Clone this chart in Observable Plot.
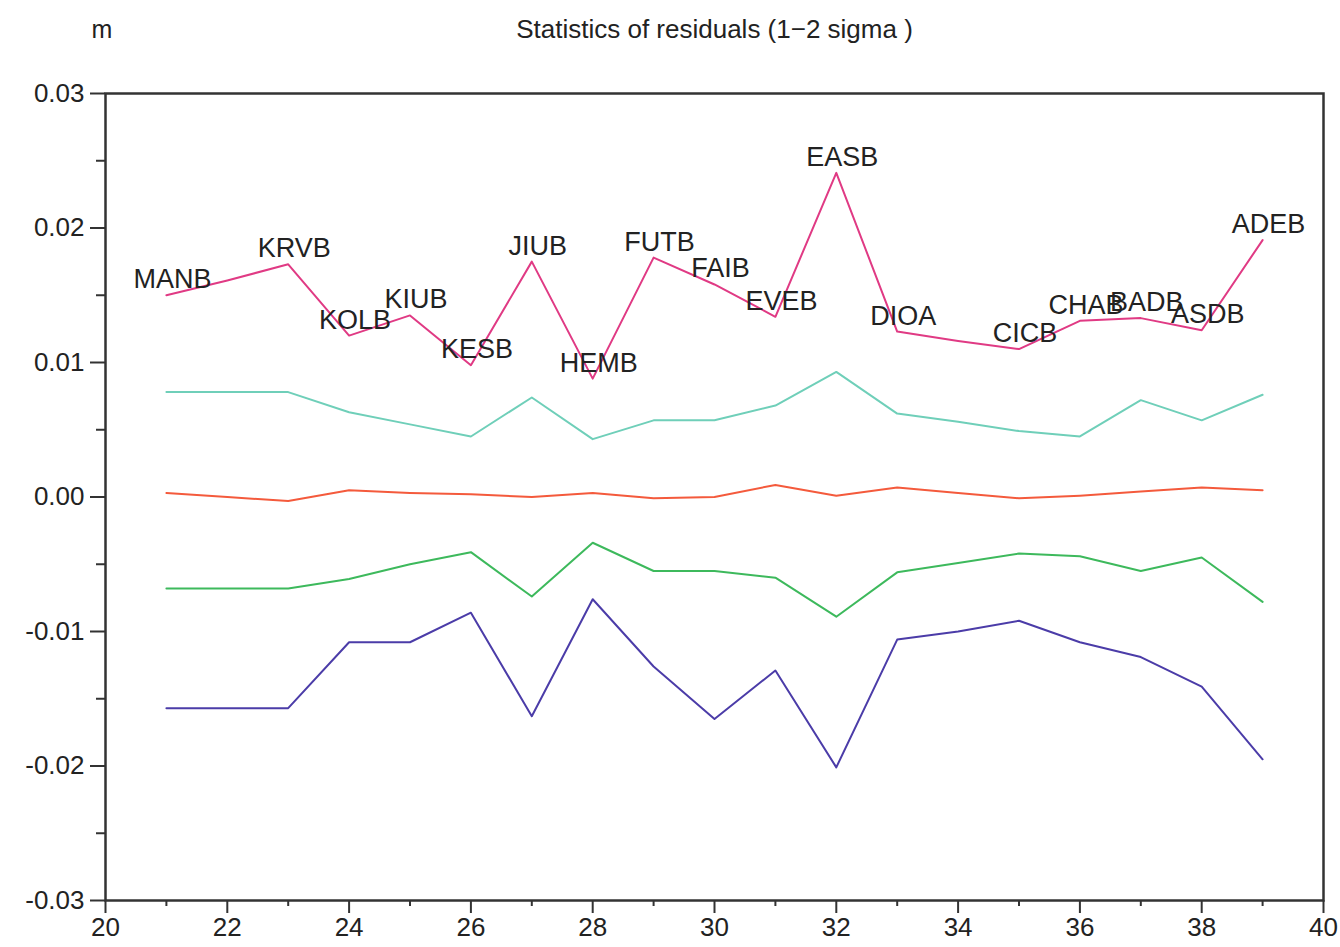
<!DOCTYPE html>
<html>
<head>
<meta charset="utf-8">
<script src="https://cdn.jsdelivr.net/npm/d3@7"></script>
<script src="https://cdn.jsdelivr.net/npm/@observablehq/plot@0.6"></script>
<style>
  html, body { margin: 0; padding: 0; background: #fff; }
</style>
</head>
<body>
<div id="chart"></div>
<script>
// ---- data ----
const xs = [21, 22, 23, 24, 25, 26, 27, 28, 29, 30, 31, 32, 33, 34, 35, 36, 37, 38, 39];
const stations = ["MANB", null, "KRVB", "KOLB", "KIUB", "KESB", "JIUB", "HEMB", "FUTB", "FAIB",
                  "EVEB", "EASB", "DIOA", null, "CICB", "CHAB", "BADB", "ASDB", "ADEB"];
const maxVals  = [0.0150, 0.0161, 0.0173, 0.0120, 0.0135, 0.0098, 0.0175, 0.0088, 0.0178, 0.0158,
                  0.0134, 0.0241, 0.0123, 0.0116, 0.0110, 0.0131, 0.0133, 0.0124, 0.0191];
const plus1Sig = [0.0078, 0.0078, 0.0078, 0.0063, 0.0054, 0.0045, 0.0074, 0.0043, 0.0057, 0.0057,
                  0.0068, 0.0093, 0.0062, 0.0056, 0.0049, 0.0045, 0.0072, 0.0057, 0.0076];
const meanVals = [0.0003, 0.0000, -0.0003, 0.0005, 0.0003, 0.0002, 0.0000, 0.0003, -0.0001, 0.0000,
                  0.0009, 0.0001, 0.0007, 0.0003, -0.0001, 0.0001, 0.0004, 0.0007, 0.0005];
const minus1Sig = [-0.0068, -0.0068, -0.0068, -0.0061, -0.0050, -0.0041, -0.0074, -0.0034, -0.0055, -0.0055,
                   -0.0060, -0.0089, -0.0056, -0.0049, -0.0042, -0.0044, -0.0055, -0.0045, -0.0078];
const minVals  = [-0.0157, -0.0157, -0.0157, -0.0108, -0.0108, -0.0086, -0.0163, -0.0076, -0.0126, -0.0165,
                  -0.0129, -0.0201, -0.0106, -0.0100, -0.0092, -0.0108, -0.0119, -0.0141, -0.0195];

const xMajor = [20, 22, 24, 26, 28, 30, 32, 34, 36, 38, 40];
const xMinor = [21, 23, 25, 27, 29, 31, 33, 35, 37, 39];
const yMajor = [-0.03, -0.02, -0.01, 0, 0.01, 0.02, 0.03];
const yMinor = [-0.025, -0.015, -0.005, 0.005, 0.015, 0.025];

const titleText = "Statistics of residuals (1\u22122 sigma )";
const unitText = "m";

const series = [
  {name: "max", values: maxVals, color: "#e03a84"},
  {name: "+1sigma", values: plus1Sig, color: "#6fcfb9"},
  {name: "mean", values: meanVals, color: "#f45a3c"},
  {name: "-1sigma", values: minus1Sig, color: "#3db95c"},
  {name: "min", values: minVals, color: "#4b3ca8"}
];

const rows = series.flatMap(s => xs.map((x, i) => ({series: s.name, x, y: s.values[i], color: s.color})));
const labels = xs.map((x, i) => ({x, y: maxVals[i], text: stations[i]})).filter(d => d.text);

const FONT = "'Liberation Sans', Arial, Helvetica, sans-serif";
const AX = "#333";

const chart = Plot.plot({
  width: 1340,
  height: 947,
  marginLeft: 105,
  marginRight: 17,
  marginTop: 93,
  marginBottom: 47,
  style: {fontFamily: FONT, fontSize: "26px", color: "#222", background: "#fff"},
  x: {domain: [20, 40]},
  y: {domain: [-0.03, 0.03]},
  marks: [
    Plot.axisX({ticks: xMajor, tickSize: 13, tickPadding: 4, tickFormat: d => String(d), stroke: AX, strokeWidth: 2, label: null, fontSize: 26}),
    Plot.axisX({ticks: xMinor, tickSize: 6, tickFormat: () => "", stroke: AX, strokeWidth: 2, label: null}),
    Plot.axisY({ticks: yMajor, tickSize: 15, tickPadding: 6, tickFormat: d => d.toFixed(2), stroke: AX, strokeWidth: 2, label: null, fontSize: 26}),
    Plot.axisY({ticks: yMinor, tickSize: 9, tickFormat: () => "", stroke: AX, strokeWidth: 2, label: null}),
    Plot.lineY(rows, {x: "x", y: "y", z: "series", stroke: "color", strokeWidth: 2}),
    Plot.text(labels, {x: "x", y: "y", text: "text", dx: 6, dy: -7, lineAnchor: "bottom", fontSize: 27, fill: "#222"}),
    Plot.frame({stroke: AX, strokeWidth: 2.5}),
    Plot.text([titleText], {frameAnchor: "top", dy: -56, lineAnchor: "bottom", fontSize: 26, fill: "#222"}),
    Plot.text([unitText], {frameAnchor: "top-left", dx: -14, dy: -56, lineAnchor: "bottom", fontSize: 25, fill: "#222"})
  ]
});
document.getElementById("chart").appendChild(chart);
</script>
</body>
</html>
